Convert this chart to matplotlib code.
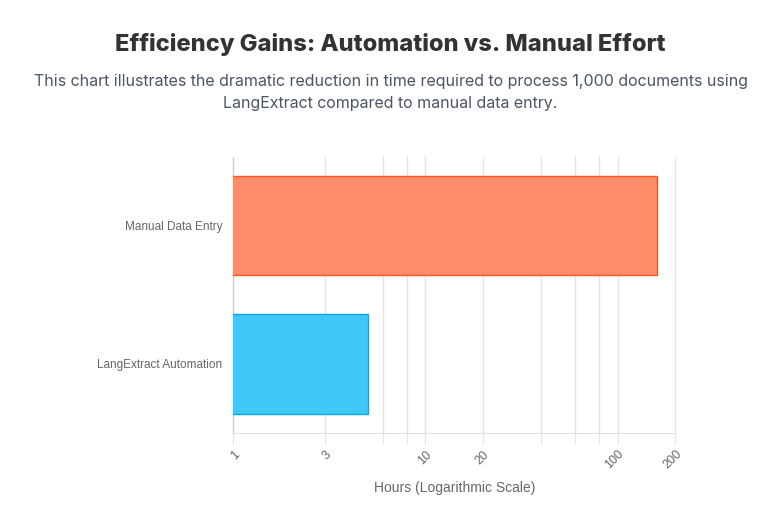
import matplotlib.pyplot as plt
from matplotlib.ticker import FixedLocator, NullLocator

# data
categories = ['Manual Data Entry', 'LangExtract Automation']
hours = [160, 5]
fill_colors = ['#FF8C69', '#40C8FA']
edge_colors = ['#FF5722', '#03A9F4']

grid_ticks = [1, 3, 6, 8, 10, 20, 40, 60, 80, 100, 200]
tick_labels = ['1', '3', '', '', '10', '20', '', '', '', '100', '200']

fig = plt.figure(figsize=(7.81, 5.20), dpi=100)
ax = fig.add_axes([0.2987, 0.1673, 0.8647 - 0.2987, 0.6987 - 0.1673])

ypos = [0, 1]
ax.barh(ypos, hours, height=0.72, left=0, color=fill_colors,
        edgecolor=edge_colors, linewidth=1.0, zorder=3)

ax.set_xscale('log')
ax.set_xlim(1, 200)
ax.set_ylim(1.5, -0.5)
ax.xaxis.set_major_locator(FixedLocator(grid_ticks))
ax.xaxis.set_minor_locator(NullLocator())
ax.set_xticklabels(tick_labels, rotation=45, ha='right', rotation_mode='anchor',
                   fontsize=9, color='#666666', family='Liberation Sans')
ax.set_yticks(ypos)
ax.set_yticklabels(categories, fontsize=8.5, color='#666666', family='Liberation Sans')

ax.grid(axis='x', color='#e5e5e5', linewidth=1, zorder=0)
for gl in ax.get_xgridlines():
    gl.set_clip_on(False)
ax.tick_params(axis='x', length=8, color='#e5e5e5', pad=3)
ax.tick_params(axis='y', length=0, pad=8)

for side in ['top', 'right']:
    ax.spines[side].set_visible(False)
ax.spines['left'].set_color('#cccccc')
ax.spines['bottom'].set_color('#e0e0e0')

ax.set_xlabel('Hours (Logarithmic Scale)', fontsize=10, color='#666666',
              family='Liberation Sans', labelpad=7)

fig.text(0.5, 0.915, 'Efficiency Gains: Automation vs. Manual Effort',
         ha='center', va='center', fontsize=17, fontweight='heavy',
         color='#333333', family='Inter')
fig.text(0.5, 0.822, 'This chart illustrates the dramatic reduction in time required to process 1,000 documents using\nLangExtract compared to manual data entry.',
         ha='center', va='center', fontsize=11.5, color='#4b5563',
         family='Inter', linespacing=1.62)

fig.savefig('out.png', dpi=100)
